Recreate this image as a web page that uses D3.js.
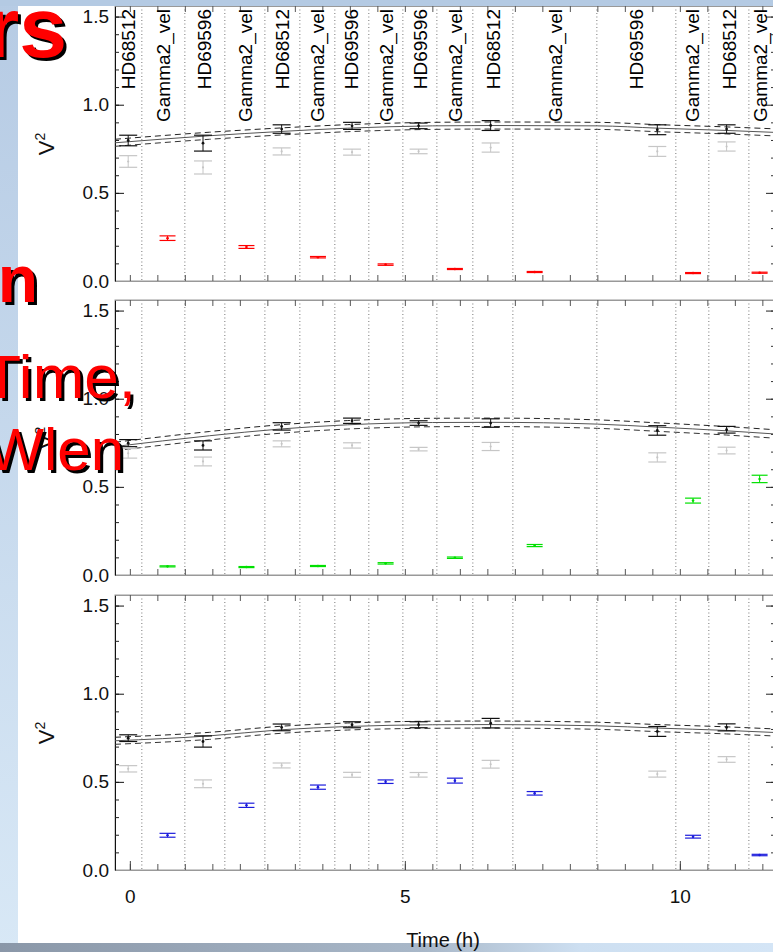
<!DOCTYPE html>
<html>
<head>
<meta charset="utf-8">
<script src="https://cdn.jsdelivr.net/npm/d3@7"></script>
<style>
  body { margin: 0; background: #fff; overflow: hidden; }
  svg { display: block; }
</style>
</head>
<body>
<svg id="chart" width="773" height="952"></svg>
<script>
// ---- data ----
const xDomain = [-0.27, 11.73];        // hours
const vDomain = [0, 1.56];             // V^2

// block separators (dotted lines) and block names
const separators = [0.218, 1.0, 1.727, 2.455, 3.091, 3.727, 4.345, 4.964, 5.582, 6.236, 6.964, 8.491, 9.927, 10.527, 11.255];
const blockEnd = 11.655;
const blockNames = ["HD68512","Gamma2_vel","HD69596","Gamma2_vel","HD68512","Gamma2_vel","HD69596","Gamma2_vel",
                    "HD69596","Gamma2_vel","HD68512","Gamma2_vel","HD69596","Gamma2_vel","HD68512","Gamma2_vel"];

// calibrators
const calTimes = [-0.03, 1.33, 2.76, 4.04, 5.25, 6.56, 9.59, 10.85];
const calV2_1   = [0.797, 0.782, 0.862, 0.880, 0.880, 0.882, 0.858, 0.862];
const calErr_1  = [0.030, 0.045, 0.024, 0.020, 0.016, 0.028, 0.028, 0.024];
const rawV2_1   = [0.678, 0.644, 0.735, 0.731, 0.735, 0.757, 0.735, 0.763];
const rawErr_1  = [0.033, 0.037, 0.020, 0.017, 0.013, 0.026, 0.028, 0.026];
const calV2_2   = [0.748, 0.735, 0.843, 0.875, 0.862, 0.862, 0.820, 0.824];
const calErr_2  = [0.020, 0.026, 0.021, 0.015, 0.013, 0.024, 0.027, 0.019];
const rawV2_2   = [0.690, 0.644, 0.744, 0.735, 0.714, 0.729, 0.667, 0.706];
const rawErr_2  = [0.027, 0.025, 0.017, 0.015, 0.010, 0.023, 0.026, 0.019];
const calV2_3   = [0.748, 0.729, 0.809, 0.824, 0.824, 0.833, 0.786, 0.809];
const calErr_3  = [0.019, 0.032, 0.019, 0.017, 0.017, 0.027, 0.028, 0.020];
const rawV2_3   = [0.574, 0.489, 0.593, 0.540, 0.540, 0.600, 0.544, 0.627];
const rawErr_3  = [0.018, 0.022, 0.014, 0.014, 0.013, 0.022, 0.017, 0.016];

// science target (Gamma2_vel)
const sciTimes = [0.685, 2.12, 3.42, 4.65, 5.91, 7.36, 10.24, 11.45];
const redV2    = [0.243, 0.193, 0.135, 0.093, 0.068, 0.051, 0.045, 0.047];
const redErr   = [0.013, 0.008, 0.004, 0.004, 0.003, 0.003, 0.003, 0.003];
const greenV2  = [0.049, 0.045, 0.051, 0.066, 0.098, 0.167, 0.422, 0.545];
const greenErr = [0.003, 0.003, 0.003, 0.004, 0.004, 0.006, 0.014, 0.021];
const blueV2   = [0.197, 0.367, 0.470, 0.501, 0.507, 0.435, 0.189, 0.085];
const blueErr  = [0.011, 0.012, 0.012, 0.010, 0.014, 0.010, 0.008, 0.004];

// transfer function curves
const tfTimes = [-0.27, 1.45, 2.73, 3.96, 5.5, 6.55, 8.5, 9.6, 10.85, 11.73];
const tf_1 = [0.784, 0.824, 0.848, 0.867, 0.880, 0.882, 0.880, 0.867, 0.854, 0.843];
const tf_2 = [0.729, 0.790, 0.828, 0.852, 0.865, 0.866, 0.856, 0.839, 0.818, 0.800];
const tf_3 = [0.733, 0.761, 0.795, 0.814, 0.824, 0.825, 0.818, 0.805, 0.792, 0.780];
const tfSig = [0.020, 0.024, 0.020];

const slideText = ["rs", "on", "Time,", "Wlen"];

// ---- layout ----
const W = 773, H = 952;
const font = "'Liberation Sans', Arial, Helvetica, sans-serif";
const plotLeft = 115, plotRight = 775;
const panelBottoms = [281, 575, 870];
const panelH = 275;

const panels = [
  { cal: calV2_1, calErr: calErr_1, raw: rawV2_1, rawErr: rawErr_1, sci: redV2,   sciErr: redErr,   color: "#ff0000", tf: tf_1, sig: tfSig[0] },
  { cal: calV2_2, calErr: calErr_2, raw: rawV2_2, rawErr: rawErr_2, sci: greenV2, sciErr: greenErr, color: "#00e000", tf: tf_2, sig: tfSig[1] },
  { cal: calV2_3, calErr: calErr_3, raw: rawV2_3, rawErr: rawErr_3, sci: blueV2,  sciErr: blueErr,  color: "#1c1cdc", tf: tf_3, sig: tfSig[2] }
];

const svg = d3.select("#chart");

// slide background
const defs = svg.append("defs");
const lg = defs.append("linearGradient").attr("id","leftGrad").attr("x1",0).attr("y1",0).attr("x2",0).attr("y2",1);
lg.append("stop").attr("offset","0%").attr("stop-color","#b6cbe4");
lg.append("stop").attr("offset","100%").attr("stop-color","#d8e8f6");
const bg = defs.append("linearGradient").attr("id","botGrad").attr("x1",0).attr("y1",0).attr("x2",1).attr("y2",0);
bg.append("stop").attr("offset","0%").attr("stop-color","#8a97a8");
bg.append("stop").attr("offset","55%").attr("stop-color","#a9b8c9");
bg.append("stop").attr("offset","75%").attr("stop-color","#cddff1");
bg.append("stop").attr("offset","100%").attr("stop-color","#d4e5f6");

svg.append("rect").attr("width",W).attr("height",H).attr("fill","#fff");

const x = d3.scaleLinear().domain(xDomain).range([plotLeft, plotRight]);

function errBars(g, y, times, vals, errs, color, capW, r) {
  const pts = times.map((t,i) => ({t, v: vals[i], e: errs[i]}));
  const eb = g.append("g");
  eb.selectAll(".ev").data(pts).enter().append("line")
    .attr("x1", d => x(d.t)).attr("x2", d => x(d.t))
    .attr("y1", d => y(d.v - d.e)).attr("y2", d => y(d.v + d.e))
    .attr("stroke", color).attr("stroke-width", 1);
  [-1, 1].forEach(s => {
    eb.selectAll(".cap" + s).data(pts).enter().append("line")
      .attr("x1", d => x(d.t) - capW/2).attr("x2", d => x(d.t) + capW/2)
      .attr("y1", d => y(d.v + s*d.e)).attr("y2", d => y(d.v + s*d.e))
      .attr("stroke", color).attr("stroke-width", 1.2);
  });
  eb.selectAll(".pt").data(pts).enter().append("circle")
    .attr("cx", d => x(d.t)).attr("cy", d => y(d.v)).attr("r", r)
    .attr("fill", color);
}

panels.forEach((p, k) => {
  const bottom = panelBottoms[k];
  const top = bottom - panelH;
  const y = d3.scaleLinear().domain(vDomain).range([bottom, top]);
  const g = svg.append("g");

  // dotted block separators
  g.selectAll(".sep").data(separators).enter().append("line")
    .attr("x1", d => x(d)).attr("x2", d => x(d))
    .attr("y1", top).attr("y2", bottom)
    .attr("stroke", "#777").attr("stroke-width", 1)
    .attr("stroke-dasharray", "1,2.5");

  // frame
  g.append("rect").attr("x", plotLeft).attr("y", top)
    .attr("width", plotRight - plotLeft).attr("height", panelH)
    .attr("fill", "none").attr("stroke", "#999");

  // y axes
  const minorV = d3.range(0, 1.56, 0.1);
  g.append("g").attr("transform", `translate(${plotLeft},0)`)
    .call(d3.axisLeft(y).tickValues(minorV).tickSize(-4).tickSizeOuter(0).tickFormat(""))
    .call(a => a.select(".domain").attr("stroke", "#111"))
    .call(a => a.selectAll("line").attr("stroke", "#222"));
  g.append("g").attr("transform", `translate(${plotLeft},0)`)
    .call(d3.axisLeft(y).tickValues([0, 0.5, 1.0, 1.5]).tickSize(-9).tickSizeOuter(0)
      .tickPadding(6).tickFormat(d3.format(".1f")))
    .call(a => a.select(".domain").remove())
    .call(a => a.selectAll("line").attr("stroke", "#111"))
    .call(a => a.selectAll("text").attr("font-family", font).attr("font-size", 19).attr("fill", "#111"));
  g.append("g").attr("transform", `translate(${plotRight},0)`)
    .call(d3.axisRight(y).tickValues(minorV).tickSize(-4).tickSizeOuter(0).tickFormat(""))
    .call(a => a.select(".domain").attr("stroke", "#999"))
    .call(a => a.selectAll("line").attr("stroke", "#333"));
  g.append("g").attr("transform", `translate(${plotRight},0)`)
    .call(d3.axisRight(y).tickValues([0, 0.5, 1.0, 1.5]).tickSize(-9).tickSizeOuter(0).tickFormat(""))
    .call(a => a.select(".domain").remove())
    .call(a => a.selectAll("line").attr("stroke", "#222"));

  // x axes (bottom and top)
  const minorT = d3.range(0, 11.75, 0.5);
  g.append("g").attr("transform", `translate(0,${bottom})`)
    .call(d3.axisBottom(x).tickValues(minorT).tickSize(-6).tickSizeOuter(0).tickFormat(""))
    .call(a => a.select(".domain").attr("stroke", "#999"))
    .call(a => a.selectAll("line").attr("stroke", "#555"));
  g.append("g").attr("transform", `translate(0,${top})`)
    .call(d3.axisTop(x).tickValues(minorT).tickSize(-6).tickSizeOuter(0).tickFormat(""))
    .call(a => a.select(".domain").attr("stroke", "#999"))
    .call(a => a.selectAll("line").attr("stroke", "#555"));
  if (k === 2) {
    g.append("g").attr("transform", `translate(0,${bottom})`)
      .call(d3.axisBottom(x).tickValues([0, 5, 10]).tickSize(-9).tickSizeOuter(0).tickPadding(20).tickFormat(d3.format("d")))
      .call(a => a.select(".domain").remove())
      .call(a => a.selectAll("line").attr("stroke", "#444"))
      .call(a => a.selectAll("text").attr("font-family", font).attr("font-size", 19).attr("fill", "#111"));
  }

  // transfer function with +/- sigma
  const tfPts = tfTimes.map((t,i) => ({t, v: p.tf[i]}));
  const line = off => d3.line().x(d => x(d.t)).y(d => y(d.v + off)).curve(d3.curveMonotoneX);
  g.append("path").datum(tfPts).attr("d", line(0))
    .attr("fill", "none").attr("stroke", "#555").attr("stroke-width", 1);
  g.append("path").datum(tfPts).attr("d", line(p.sig))
    .attr("fill", "none").attr("stroke", "#222").attr("stroke-width", 1).attr("stroke-dasharray", "6,4");
  g.append("path").datum(tfPts).attr("d", line(-p.sig))
    .attr("fill", "none").attr("stroke", "#333").attr("stroke-width", 1).attr("stroke-dasharray", "6,4");

  // points
  errBars(g, y, calTimes, p.raw, p.rawErr, "#c6c6c6", 18, 1.1);
  errBars(g, y, calTimes, p.cal, p.calErr, "#111", 18, 1.4);
  errBars(g, y, sciTimes, p.sci, p.sciErr, p.color, 16, 1.3);

  // V^2 label
  const vl = g.append("text")
    .attr("transform", `translate(46,${bottom - 137}) rotate(-90)`)
    .attr("text-anchor", "middle").attr("dy", "0.35em")
    .attr("font-family", font).attr("font-size", 22).attr("fill", "#111");
  vl.append("tspan").text("V");
  vl.append("tspan").attr("font-size", 14).attr("dy", "-0.6em").text("2");

  // block labels on the top panel
  if (k === 0) {
    const bounds = [xDomain[0], ...separators, blockEnd];
    g.selectAll(".blk").data(blockNames).enter().append("text")
      .attr("transform", (d,i) => `translate(${x((bounds[i] + bounds[i+1]) / 2)},9) rotate(-90)`)
      .attr("text-anchor", "end").attr("dy", "0.35em")
      .attr("font-family", font).attr("font-size", 19).attr("fill", "#000")
      .text(d => d);
  }
});

// slide frame strips
svg.append("rect").attr("x",0).attr("y",0).attr("width",18).attr("height",H).attr("fill","url(#leftGrad)");
svg.append("rect").attr("x",0).attr("y",0).attr("width",W).attr("height",6).attr("fill","#b4cae3");
svg.append("rect").attr("x",0).attr("y",943).attr("width",W).attr("height",9).attr("fill","url(#botGrad)");

// x title (above the bottom strip)
svg.append("text").attr("x", 443).attr("y", 947).attr("text-anchor", "middle")
  .attr("font-family", font).attr("font-size", 20).attr("fill", "#111").text("Time (h)");

// red slide text with shadow
const slideStyle = [
  { x: 67,  y: 57,  size: 86, weight: "bold" },
  { x: 38,  y: 302, size: 66, weight: "bold" },
  { x: 136, y: 398, size: 62, weight: "normal" },
  { x: 124, y: 470, size: 60, weight: "normal" }
];
slideText.forEach((t, i) => {
  const s = slideStyle[i];
  [["#000", 3], ["#ff0000", 0]].forEach(([c, o]) => {
    svg.append("text").attr("x", s.x + o).attr("y", s.y + o)
      .attr("text-anchor", "end")
      .attr("font-family", font).attr("font-size", s.size).attr("font-weight", s.weight)
      .attr("fill", c).text(t);
  });
});
</script>
</body>
</html>
